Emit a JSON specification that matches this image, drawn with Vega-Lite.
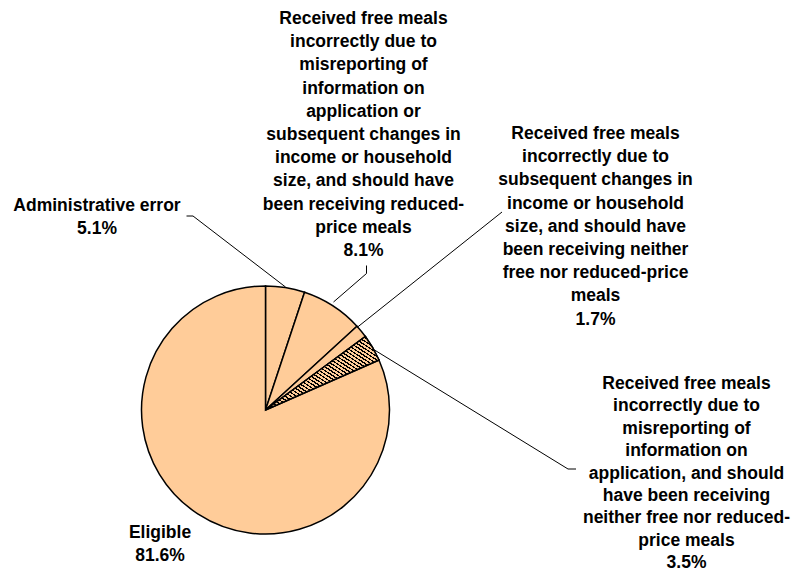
{
  "$schema": "https://vega.github.io/schema/vega-lite/v6.json",
  "width": 797,
  "height": 572,
  "padding": 0,
  "autosize": {"type": "fit", "contains": "padding"},
  "config": {"view": {"stroke": null}},
  "data": {"values": [
    {"k": 1, "category": "Administrative error", "pct": 5.1, "label": "Administrative error\n5.1%"},
    {"k": 2, "category": "Free, misreported or changed, should be reduced-price", "pct": 8.1, "label": "Received free meals\nincorrectly due to\nmisreporting of\ninformation on\napplication or\nsubsequent changes in\nincome or household\nsize, and should have\nbeen receiving reduced-\nprice meals\n8.1%"},
    {"k": 3, "category": "Free, subsequent changes, should be neither", "pct": 1.7, "label": "Received free meals\nincorrectly due to\nsubsequent changes in\nincome or household\nsize, and should have\nbeen receiving neither\nfree nor reduced-price\nmeals\n1.7%"},
    {"k": 4, "category": "Free, misreported, should be neither", "pct": 3.5, "label": "Received free meals\nincorrectly due to\nmisreporting of\ninformation on\napplication, and should\nhave been receiving\nneither free nor reduced-\nprice meals\n3.5%"},
    {"k": 5, "category": "Eligible", "pct": 81.6, "label": "Eligible\n81.6%"}
  ]},
  "layer": [
    {
      "mark": {"type": "arc", "radius": 124, "fill": "#FFCC99", "stroke": "#000000", "strokeWidth": 1.5},
      "encoding": {
        "x": {"datum": 265.5, "type": "quantitative", "scale": {"domain": [0, 797], "nice": false, "zero": false}, "axis": null},
        "y": {"datum": 410, "type": "quantitative", "scale": {"domain": [0, 572], "nice": false, "zero": false, "reverse": true}, "axis": null},
        "theta": {"field": "pct", "type": "quantitative", "stack": true},
        "order": {"field": "k", "type": "quantitative"}
      }
    },
    {
      "mark": {"type": "arc", "radius": 124, "stroke": "#000000", "strokeWidth": 1.5,
        "fill": {"gradient": "linear", "x1": 0, "y1": 1, "x2": 1, "y2": 0, "stops": [
          {"offset": 0, "color": "#000"}, {"offset": 0.01, "color": "#000"}, {"offset": 0.01, "color": "#FFCC99"}, {"offset": 0.025, "color": "#FFCC99"},
          {"offset": 0.025, "color": "#000"}, {"offset": 0.035, "color": "#000"}, {"offset": 0.035, "color": "#FFCC99"}, {"offset": 0.05, "color": "#FFCC99"},
          {"offset": 0.05, "color": "#000"}, {"offset": 0.06, "color": "#000"}, {"offset": 0.06, "color": "#FFCC99"}, {"offset": 0.075, "color": "#FFCC99"},
          {"offset": 0.075, "color": "#000"}, {"offset": 0.085, "color": "#000"}, {"offset": 0.085, "color": "#FFCC99"}, {"offset": 0.1, "color": "#FFCC99"},
          {"offset": 0.1, "color": "#000"}, {"offset": 0.11, "color": "#000"}, {"offset": 0.11, "color": "#FFCC99"}, {"offset": 0.125, "color": "#FFCC99"},
          {"offset": 0.125, "color": "#000"}, {"offset": 0.135, "color": "#000"}, {"offset": 0.135, "color": "#FFCC99"}, {"offset": 0.15, "color": "#FFCC99"},
          {"offset": 0.15, "color": "#000"}, {"offset": 0.16, "color": "#000"}, {"offset": 0.16, "color": "#FFCC99"}, {"offset": 0.175, "color": "#FFCC99"},
          {"offset": 0.175, "color": "#000"}, {"offset": 0.185, "color": "#000"}, {"offset": 0.185, "color": "#FFCC99"}, {"offset": 0.2, "color": "#FFCC99"},
          {"offset": 0.2, "color": "#000"}, {"offset": 0.21, "color": "#000"}, {"offset": 0.21, "color": "#FFCC99"}, {"offset": 0.225, "color": "#FFCC99"},
          {"offset": 0.225, "color": "#000"}, {"offset": 0.235, "color": "#000"}, {"offset": 0.235, "color": "#FFCC99"}, {"offset": 0.25, "color": "#FFCC99"},
          {"offset": 0.25, "color": "#000"}, {"offset": 0.26, "color": "#000"}, {"offset": 0.26, "color": "#FFCC99"}, {"offset": 0.275, "color": "#FFCC99"},
          {"offset": 0.275, "color": "#000"}, {"offset": 0.285, "color": "#000"}, {"offset": 0.285, "color": "#FFCC99"}, {"offset": 0.3, "color": "#FFCC99"},
          {"offset": 0.3, "color": "#000"}, {"offset": 0.31, "color": "#000"}, {"offset": 0.31, "color": "#FFCC99"}, {"offset": 0.325, "color": "#FFCC99"},
          {"offset": 0.325, "color": "#000"}, {"offset": 0.335, "color": "#000"}, {"offset": 0.335, "color": "#FFCC99"}, {"offset": 0.35, "color": "#FFCC99"},
          {"offset": 0.35, "color": "#000"}, {"offset": 0.36, "color": "#000"}, {"offset": 0.36, "color": "#FFCC99"}, {"offset": 0.375, "color": "#FFCC99"},
          {"offset": 0.375, "color": "#000"}, {"offset": 0.385, "color": "#000"}, {"offset": 0.385, "color": "#FFCC99"}, {"offset": 0.4, "color": "#FFCC99"},
          {"offset": 0.4, "color": "#000"}, {"offset": 0.41, "color": "#000"}, {"offset": 0.41, "color": "#FFCC99"}, {"offset": 0.425, "color": "#FFCC99"},
          {"offset": 0.425, "color": "#000"}, {"offset": 0.435, "color": "#000"}, {"offset": 0.435, "color": "#FFCC99"}, {"offset": 0.45, "color": "#FFCC99"},
          {"offset": 0.45, "color": "#000"}, {"offset": 0.46, "color": "#000"}, {"offset": 0.46, "color": "#FFCC99"}, {"offset": 0.475, "color": "#FFCC99"},
          {"offset": 0.475, "color": "#000"}, {"offset": 0.485, "color": "#000"}, {"offset": 0.485, "color": "#FFCC99"}, {"offset": 0.5, "color": "#FFCC99"},
          {"offset": 0.5, "color": "#000"}, {"offset": 0.51, "color": "#000"}, {"offset": 0.51, "color": "#FFCC99"}, {"offset": 0.525, "color": "#FFCC99"},
          {"offset": 0.525, "color": "#000"}, {"offset": 0.535, "color": "#000"}, {"offset": 0.535, "color": "#FFCC99"}, {"offset": 0.55, "color": "#FFCC99"},
          {"offset": 0.55, "color": "#000"}, {"offset": 0.56, "color": "#000"}, {"offset": 0.56, "color": "#FFCC99"}, {"offset": 0.575, "color": "#FFCC99"},
          {"offset": 0.575, "color": "#000"}, {"offset": 0.585, "color": "#000"}, {"offset": 0.585, "color": "#FFCC99"}, {"offset": 0.6, "color": "#FFCC99"},
          {"offset": 0.6, "color": "#000"}, {"offset": 0.61, "color": "#000"}, {"offset": 0.61, "color": "#FFCC99"}, {"offset": 0.625, "color": "#FFCC99"},
          {"offset": 0.625, "color": "#000"}, {"offset": 0.635, "color": "#000"}, {"offset": 0.635, "color": "#FFCC99"}, {"offset": 0.65, "color": "#FFCC99"},
          {"offset": 0.65, "color": "#000"}, {"offset": 0.66, "color": "#000"}, {"offset": 0.66, "color": "#FFCC99"}, {"offset": 0.675, "color": "#FFCC99"},
          {"offset": 0.675, "color": "#000"}, {"offset": 0.685, "color": "#000"}, {"offset": 0.685, "color": "#FFCC99"}, {"offset": 0.7, "color": "#FFCC99"},
          {"offset": 0.7, "color": "#000"}, {"offset": 0.71, "color": "#000"}, {"offset": 0.71, "color": "#FFCC99"}, {"offset": 0.725, "color": "#FFCC99"},
          {"offset": 0.725, "color": "#000"}, {"offset": 0.735, "color": "#000"}, {"offset": 0.735, "color": "#FFCC99"}, {"offset": 0.75, "color": "#FFCC99"},
          {"offset": 0.75, "color": "#000"}, {"offset": 0.76, "color": "#000"}, {"offset": 0.76, "color": "#FFCC99"}, {"offset": 0.775, "color": "#FFCC99"},
          {"offset": 0.775, "color": "#000"}, {"offset": 0.785, "color": "#000"}, {"offset": 0.785, "color": "#FFCC99"}, {"offset": 0.8, "color": "#FFCC99"},
          {"offset": 0.8, "color": "#000"}, {"offset": 0.81, "color": "#000"}, {"offset": 0.81, "color": "#FFCC99"}, {"offset": 0.825, "color": "#FFCC99"},
          {"offset": 0.825, "color": "#000"}, {"offset": 0.835, "color": "#000"}, {"offset": 0.835, "color": "#FFCC99"}, {"offset": 0.85, "color": "#FFCC99"},
          {"offset": 0.85, "color": "#000"}, {"offset": 0.86, "color": "#000"}, {"offset": 0.86, "color": "#FFCC99"}, {"offset": 0.875, "color": "#FFCC99"},
          {"offset": 0.875, "color": "#000"}, {"offset": 0.885, "color": "#000"}, {"offset": 0.885, "color": "#FFCC99"}, {"offset": 0.9, "color": "#FFCC99"},
          {"offset": 0.9, "color": "#000"}, {"offset": 0.91, "color": "#000"}, {"offset": 0.91, "color": "#FFCC99"}, {"offset": 0.925, "color": "#FFCC99"},
          {"offset": 0.925, "color": "#000"}, {"offset": 0.935, "color": "#000"}, {"offset": 0.935, "color": "#FFCC99"}, {"offset": 0.95, "color": "#FFCC99"},
          {"offset": 0.95, "color": "#000"}, {"offset": 0.96, "color": "#000"}, {"offset": 0.96, "color": "#FFCC99"}, {"offset": 0.975, "color": "#FFCC99"},
          {"offset": 0.975, "color": "#000"}, {"offset": 0.985, "color": "#000"}, {"offset": 0.985, "color": "#FFCC99"}, {"offset": 1, "color": "#FFCC99"}
        ]}},
      "encoding": {
        "x": {"datum": 265.5, "type": "quantitative", "scale": {"domain": [0, 797], "nice": false, "zero": false}, "axis": null},
        "y": {"datum": 410, "type": "quantitative", "scale": {"domain": [0, 572], "nice": false, "zero": false, "reverse": true}, "axis": null},
        "theta": {"field": "pct", "type": "quantitative", "stack": true},
        "order": {"field": "k", "type": "quantitative"},
        "opacity": {"condition": {"test": "datum.k == 4", "value": 1}, "value": 0}
      }
    },
    {
      "data": {"values": [{}]},
      "mark": {"type": "rule", "color": "#000000", "strokeWidth": 1},
      "encoding": {
        "x": {"datum": 285.5, "type": "quantitative"}, "y": {"datum": 287, "type": "quantitative"},
        "x2": {"datum": 193}, "y2": {"datum": 216}
      }
    },
    {
      "data": {"values": [{}]},
      "mark": {"type": "rule", "color": "#000000", "strokeWidth": 1},
      "encoding": {
        "x": {"datum": 193, "type": "quantitative"}, "y": {"datum": 216, "type": "quantitative"},
        "x2": {"datum": 186.5}, "y2": {"datum": 216}
      }
    },
    {
      "data": {"values": [{}]},
      "mark": {"type": "rule", "color": "#000000", "strokeWidth": 1},
      "encoding": {
        "x": {"datum": 333.5, "type": "quantitative"}, "y": {"datum": 302, "type": "quantitative"},
        "x2": {"datum": 366.5}, "y2": {"datum": 273.5}
      }
    },
    {
      "data": {"values": [{}]},
      "mark": {"type": "rule", "color": "#000000", "strokeWidth": 1},
      "encoding": {
        "x": {"datum": 366.5, "type": "quantitative"}, "y": {"datum": 273.5, "type": "quantitative"},
        "x2": {"datum": 366.5}, "y2": {"datum": 265.5}
      }
    },
    {
      "data": {"values": [{}]},
      "mark": {"type": "rule", "color": "#000000", "strokeWidth": 1},
      "encoding": {
        "x": {"datum": 357, "type": "quantitative"}, "y": {"datum": 327.5, "type": "quantitative"},
        "x2": {"datum": 502}, "y2": {"datum": 212}
      }
    },
    {
      "data": {"values": [{}]},
      "mark": {"type": "rule", "color": "#000000", "strokeWidth": 1},
      "encoding": {
        "x": {"datum": 374.5, "type": "quantitative"}, "y": {"datum": 350, "type": "quantitative"},
        "x2": {"datum": 568}, "y2": {"datum": 469}
      }
    },
    {
      "data": {"values": [{}]},
      "mark": {"type": "rule", "color": "#000000", "strokeWidth": 1},
      "encoding": {
        "x": {"datum": 568, "type": "quantitative"}, "y": {"datum": 469, "type": "quantitative"},
        "x2": {"datum": 576}, "y2": {"datum": 469}
      }
    },
    {
      "transform": [{"filter": "datum.k == 1"}],
      "mark": {"type": "text", "font": "Liberation Sans", "fontWeight": "bold", "fontSize": 17.5, "lineBreak": "\n", "lineHeight": 23, "align": "center", "baseline": "alphabetic", "color": "#000000"},
      "encoding": {"x": {"datum": 97, "type": "quantitative"}, "y": {"datum": 211, "type": "quantitative"}, "text": {"field": "label"}}
    },
    {
      "transform": [{"filter": "datum.k == 2"}],
      "mark": {"type": "text", "font": "Liberation Sans", "fontWeight": "bold", "fontSize": 17.5, "lineBreak": "\n", "lineHeight": 23.2, "align": "center", "baseline": "alphabetic", "color": "#000000"},
      "encoding": {"x": {"datum": 363.5, "type": "quantitative"}, "y": {"datum": 24, "type": "quantitative"}, "text": {"field": "label"}}
    },
    {
      "transform": [{"filter": "datum.k == 3"}],
      "mark": {"type": "text", "font": "Liberation Sans", "fontWeight": "bold", "fontSize": 17.5, "lineBreak": "\n", "lineHeight": 23.2, "align": "center", "baseline": "alphabetic", "color": "#000000"},
      "encoding": {"x": {"datum": 595.5, "type": "quantitative"}, "y": {"datum": 139, "type": "quantitative"}, "text": {"field": "label"}}
    },
    {
      "transform": [{"filter": "datum.k == 4"}],
      "mark": {"type": "text", "font": "Liberation Sans", "fontWeight": "bold", "fontSize": 17.5, "lineBreak": "\n", "lineHeight": 22.4, "align": "center", "baseline": "alphabetic", "color": "#000000"},
      "encoding": {"x": {"datum": 686.5, "type": "quantitative"}, "y": {"datum": 389, "type": "quantitative"}, "text": {"field": "label"}}
    },
    {
      "transform": [{"filter": "datum.k == 5"}],
      "mark": {"type": "text", "font": "Liberation Sans", "fontWeight": "bold", "fontSize": 17.5, "lineBreak": "\n", "lineHeight": 23, "align": "center", "baseline": "alphabetic", "color": "#000000"},
      "encoding": {"x": {"datum": 160, "type": "quantitative"}, "y": {"datum": 538, "type": "quantitative"}, "text": {"field": "label"}}
    }
  ]
}
